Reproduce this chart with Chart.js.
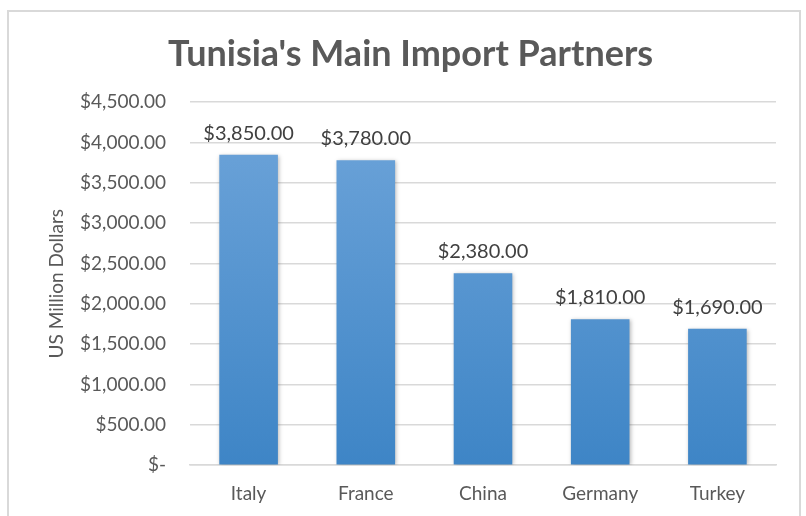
<!DOCTYPE html>
<html>
<head>
<meta charset="utf-8">
<script src="https://cdn.jsdelivr.net/npm/chart.js@4/dist/chart.umd.min.js"></script>
<style>
  body { margin: 0; background: #fff; overflow: hidden; }
  #wrap { position: absolute; left: 7px; top: 10px; width: 794px; height: 522px; border: 2px solid #d9d9d9; box-sizing: border-box; }
</style>
</head>
<body>
<div id="wrap"><canvas id="myChart"></canvas></div>
<script>
const aLabels = ['Italy', 'France', 'China', 'Germany', 'Turkey'];
const aValues = [3850, 3780, 2380, 1810, 1690];

function fmtMoney(v) {
    if (v === 0) return '$-';
    return '$' + v.toLocaleString('en-US', { minimumFractionDigits: 2, maximumFractionDigits: 2 });
}

// soft shadow behind the bars, like the spreadsheet version
const barShadow = {
    id: 'barShadow',
    beforeDatasetsDraw(chart) {
        const c = chart.ctx;
        c.save();
        c.shadowColor = 'rgba(0,0,0,0.28)';
        c.shadowBlur = 4;
        c.shadowOffsetX = 1;
        c.shadowOffsetY = 1;
    },
    afterDatasetsDraw(chart) {
        chart.ctx.restore();
    }
};

// draw value labels above each bar
const barLabels = {
    id: 'barLabels',
    afterDatasetsDraw(chart) {
        const c = chart.ctx;
        const meta = chart.getDatasetMeta(0);
        c.save();
        c.font = '20px Lato';
        c.fillStyle = '#404040';
        c.textAlign = 'center';
        c.textBaseline = 'alphabetic';
        meta.data.forEach((bar, i) => {
            c.fillText(fmtMoney(aValues[i]), bar.x, bar.y - 15);
        });
        c.restore();
    }
};

const ctx = document.getElementById('myChart').getContext('2d');
const myChart = new Chart(ctx, {
    type: 'bar',
    data: {
        labels: aLabels,
        datasets: [{
            data: aValues,
            backgroundColor: function(context) {
                const area = context.chart.chartArea;
                if (!area) return '#5b9bd5';
                const g = context.chart.ctx.createLinearGradient(0, area.top, 0, area.bottom);
                g.addColorStop(0, '#6fa5da');
                g.addColorStop(1, '#3e85c6');
                return g;
            },
            barPercentage: 0.5,
            categoryPercentage: 1.0
        }]
    },
    options: {
        responsive: true,
        maintainAspectRatio: false,
        animation: false,
        layout: { padding: { left: 36, right: 23, top: 0, bottom: 8 } },
        scales: {
            y: {
                min: 0,
                max: 4500,
                afterFit: scale => { scale.width = 145; },
                ticks: {
                    stepSize: 500,
                    color: '#595959',
                    font: { family: 'Lato', size: 19 },
                    padding: 24,
                    callback: v => fmtMoney(v)
                },
                grid: { color: '#d9d9d9', lineWidth: 1.5, drawTicks: false },
                border: { display: false },
                title: {
                    display: true,
                    text: 'US Million Dollars',
                    color: '#595959',
                    font: { family: 'Lato', size: 19 },
                    padding: { top: 0, bottom: 0 }
                }
            },
            x: {
                ticks: {
                    color: '#595959',
                    font: { family: 'Lato', size: 19 },
                    padding: 17
                },
                grid: { display: false, drawTicks: false },
                border: { display: true, color: '#d9d9d9', width: 1.5 }
            }
        },
        plugins: {
            legend: { display: false },
            tooltip: { enabled: false },
            title: {
                display: true,
                text: "Tunisia's Main Import Partners",
                color: '#595959',
                font: { family: 'Lato', size: 36, weight: 'bold' },
                padding: { top: 21, bottom: 26 }
            }
        }
    },
    plugins: [barShadow, barLabels]
});
</script>
</body>
</html>
